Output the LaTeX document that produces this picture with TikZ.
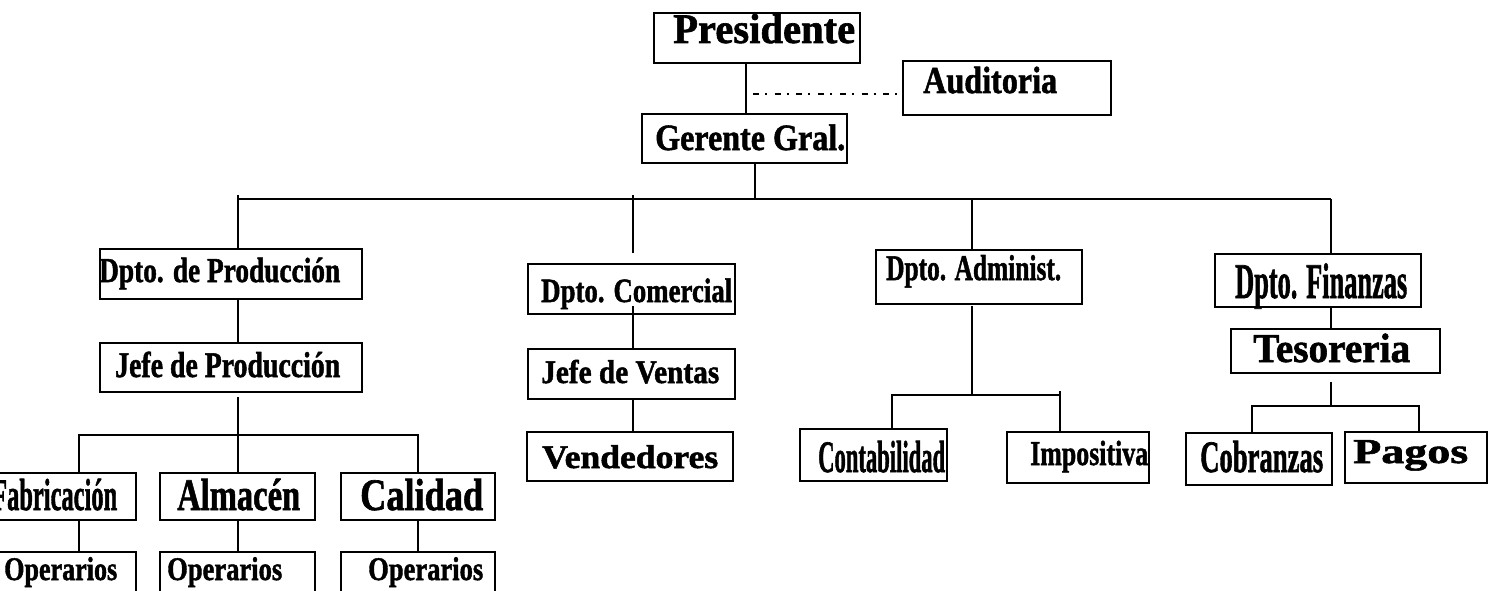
\documentclass[tikz,border=0pt]{standalone}
\usepackage{fontspec}
\usepackage{graphicx}
\setmainfont{Liberation Serif}[BoldFeatures={FakeBold=1.5}]
\newcommand\tx[3]{{\fontsize{#1}{#1}\selectfont\bfseries\resizebox{#2pt}{\height}{#3}}}
\tikzset{
  box/.style={draw, line width=1.8pt, rectangle, inner sep=0pt, anchor=north west},
  txt/.style={inner sep=0pt, anchor=base west},
  conn/.style={line width=1.5pt},
  dashdotline/.style={line width=1.3pt, dash pattern=on 6pt off 6pt on 2pt off 7.7pt}
}
\begin{document}
\begin{tikzpicture}[x=1pt,y=-1pt]
\useasboundingbox[fill=white] (0,0) rectangle (1490,591);
% boxes
\node[box, minimum width=206pt, minimum height=50pt] (pres) at (653,12) {};
\node[box, minimum width=208pt, minimum height=54pt] (aud) at (902,60) {};
\node[box, minimum width=205pt, minimum height=49pt] (ger) at (641,113) {};
\node[box, minimum width=262pt, minimum height=50pt] (prod) at (99,248) {};
\node[box, minimum width=262pt, minimum height=49pt] (jprod) at (99,342) {};
\node[box, minimum width=175pt, minimum height=47pt] (fab) at (-40,472) {};
\node[box, minimum width=155pt, minimum height=47pt] (alm) at (159,472) {};
\node[box, minimum width=154pt, minimum height=47pt] (cal) at (340,472) {};
\node[box, minimum width=175pt, minimum height=60pt] (op1) at (-40,551) {};
\node[box, minimum width=155pt, minimum height=60pt] (op2) at (159,551) {};
\node[box, minimum width=154pt, minimum height=60pt] (op3) at (340,551) {};
\node[box, minimum width=207pt, minimum height=50pt] (com) at (527,263) {};
\node[box, minimum width=207pt, minimum height=50pt] (jven) at (527,348) {};
\node[box, minimum width=206pt, minimum height=49pt] (vend) at (526,431) {};
\node[box, minimum width=206pt, minimum height=54pt] (adm) at (875,249) {};
\node[box, minimum width=147pt, minimum height=52pt] (cont) at (799,428) {};
\node[box, minimum width=142pt, minimum height=51pt] (imp) at (1006,431) {};
\node[box, minimum width=206pt, minimum height=53pt] (fin) at (1214,253) {};
\node[box, minimum width=209pt, minimum height=44pt] (tes) at (1230,328) {};
\node[box, minimum width=146pt, minimum height=52pt] (cob) at (1185,432) {};
\node[box, minimum width=142pt, minimum height=51pt] (pag) at (1344,431) {};
% texts
\node[txt] (pres-t) at (673,43) {\tx{42}{182}{Presidente}};
\node[txt] (aud-t) at (923,93) {\tx{38}{134}{Auditoria}};
\node[txt] (ger-t) at (655,150) {\tx{37}{190}{Gerente Gral.}};
\node[txt] (prod-t) at (99,282) {\tx{35}{241}{Dpto. de Producción}};
\node[txt] (jprod-t) at (115,377) {\tx{36}{225}{Jefe de Producción}};
\node[txt] (fab-t) at (-8,510) {\tx{45}{125}{Fabricación}};
\node[txt] (alm-t) at (177,510) {\tx{45}{123}{Almacén}};
\node[txt] (cal-t) at (360,510) {\tx{45}{123}{Calidad}};
\node[txt] (op1-t) at (4,580) {\tx{33}{113}{Operarios}};
\node[txt] (op2-t) at (167,580) {\tx{33}{115}{Operarios}};
\node[txt] (op3-t) at (368,580) {\tx{33}{115}{Operarios}};
\node[txt] (com-t) at (541,302) {\tx{34}{191}{Dpto. Comercial}};
\node[txt] (jven-t) at (541,383) {\tx{33}{178}{Jefe de Ventas}};
\node[txt] (vend-t) at (542,468) {\tx{33}{176}{Vendedores}};
\node[txt] (adm-t) at (886,280) {\tx{36}{175}{Dpto. Administ.}};
\node[txt] (cont-t) at (818,472) {\tx{45}{127}{Contabilidad}};
\node[txt] (imp-t) at (1030,465) {\tx{35}{118}{Impositiva}};
\node[txt] (fin-t) at (1235,298) {\tx{50}{172}{Dpto. Finanzas}};
\node[txt] (tes-t) at (1253,362) {\tx{41}{157}{Tesoreria}};
\node[txt] (cob-t) at (1200,472) {\tx{45}{123}{Cobranzas}};
\node[txt] (pag-t) at (1353,463) {\tx{35}{115}{Pagos}};
% coordinates for connector columns and buses
\coordinate (xPres) at (746,0);
\coordinate (ddS) at (753,94);
\coordinate (xG) at (755,0);
\coordinate (bL) at (238,199);
\coordinate (bR) at (1331,199);
\coordinate (pTop) at (238,195);
\coordinate (cTop) at (633,195);
\coordinate (cEnd) at (633,253);
\coordinate (xA) at (972,0);
\coordinate (xP) at (238,0);
\coordinate (jpS) at (238,397);
\coordinate (b2L) at (79,435);
\coordinate (b2R) at (418,435);
\coordinate (comS) at (633,306);
\coordinate (xC) at (633,0);
\coordinate (admS) at (972,306);
\coordinate (b3L) at (892,395);
\coordinate (b3R) at (1060,395);
\coordinate (impT) at (1060,391);
\coordinate (tesS) at (1331,382);
\coordinate (b4L) at (1252,406);
\coordinate (b4R) at (1419,406);
% connectors
\draw[conn] (xPres |- pres.south) -- (xPres |- ger.north);
\draw[dashdotline] (ddS) -- (ddS -| aud.west);
\draw[conn] (xG |- ger.south) -- (xG |- bL);
\draw[conn] (bL) -- (bR);
\draw[conn] (pTop) -- (pTop |- prod.north);
\draw[conn] (cTop) -- (cEnd);
\draw[conn] (xA |- bL) -- (xA |- adm.north);
\draw[conn] (bR) -- (bR |- fin.north);
\draw[conn] (xP |- prod.south) -- (xP |- jprod.north);
\draw[conn] (jpS) -- (jpS |- alm.north);
\draw[conn] (b2L |- fab.north) -- (b2L) -- (b2R) -- (b2R |- cal.north);
\draw[conn] (b2L |- fab.south) -- (b2L |- op1.north);
\draw[conn] (xP |- alm.south) -- (xP |- op2.north);
\draw[conn] (b2R |- cal.south) -- (b2R |- op3.north);
\draw[conn] (comS) -- (comS |- jven.north);
\draw[conn] (xC |- jven.south) -- (xC |- vend.north);
\draw[conn] (admS) -- (admS |- b3L);
\draw[conn] (b3L |- cont.north) -- (b3L) -- (b3R);
\draw[conn] (impT) -- (impT |- imp.north);
\draw[conn] (bR |- fin.south) -- (bR |- tes.north);
\draw[conn] (tesS) -- (tesS |- b4L);
\draw[conn] (b4L |- cob.north) -- (b4L) -- (b4R) -- (b4R |- pag.north);
\end{tikzpicture}
\end{document}
